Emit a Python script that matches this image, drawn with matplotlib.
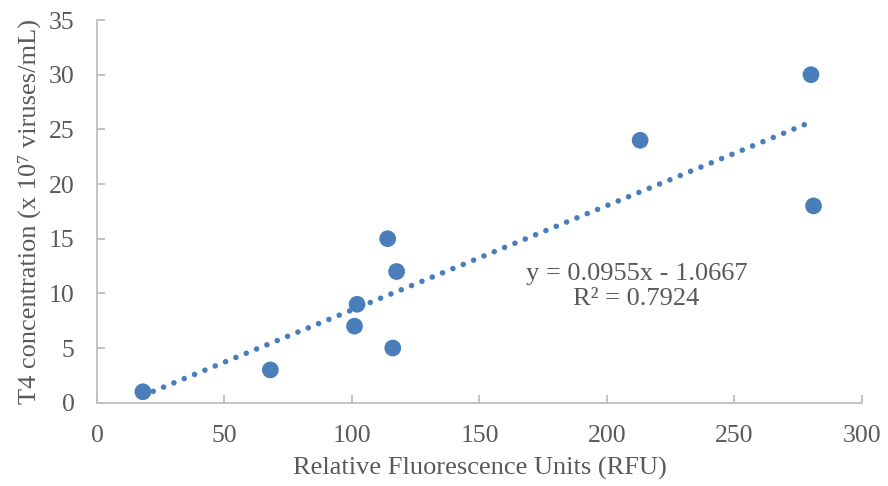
import numpy as np
import matplotlib
matplotlib.use('Agg')
import matplotlib.pyplot as plt

#Data
rfu = [18, 68, 101, 102, 114, 116, 117.5, 213, 280, 281]
t4_conc = [1, 3, 7, 9, 15, 5, 12, 24, 30, 18]

#Trendline as printed on the chart
slope = 0.0955
intercept = -1.0667
r_squared = 0.7924

x_ticks = [0, 50, 100, 150, 200, 250, 300]
y_ticks = [0, 5, 10, 15, 20, 25, 30, 35]

blue = '#4A7EBB'
grey_text = '#595959'
grey_axis = '#BFBFBF'

plt.rcParams['font.family'] = ['Liberation Serif', 'DejaVu Serif']
fs_tick = 18.5
fs = 19

fig = plt.figure(figsize=(8.88, 4.86), dpi=100)
ax = fig.add_axes([0.1092, 0.1714, 0.8615, 0.7874])

#Linear trendline, dotted, spanning the data range
x_fit = np.array([min(rfu), max(rfu)])
ax.plot(x_fit, slope * x_fit + intercept, color=blue, linestyle=(0, (0.01, 2.0)),
        linewidth=4.0, dash_capstyle='round', zorder=2)

ax.scatter(rfu, t4_conc, s=145, color=blue, edgecolors='none', zorder=3)

eq_text = f'y = {slope:.4f}x - {abs(intercept):.4f}\nR² = {r_squared:.4f}'
ax.text(211.6, 10.6, eq_text, ha='center', va='center', multialignment='center',
        fontsize=fs, color=grey_text, linespacing=1.17)

ax.set_xlim(0, 300)
ax.set_ylim(0, 35)
ax.set_xticks(x_ticks)
ax.set_yticks(y_ticks)

for side in ['top', 'right']:
    ax.spines[side].set_visible(False)
for side in ['left', 'bottom']:
    ax.spines[side].set_color(grey_axis)
    ax.spines[side].set_linewidth(1.3)

ax.tick_params(axis='both', direction='in', length=6, width=1.3, color=grey_axis,
               labelsize=fs_tick, labelcolor=grey_text)
ax.tick_params(axis='x', pad=16)
ax.tick_params(axis='y', pad=16)

ax.set_xlabel('Relative Fluorescence Units (RFU)', fontsize=fs, color=grey_text, labelpad=7)
ax.set_ylabel('T4 concentration (x 10⁷ viruses/mL)', fontsize=fs, color=grey_text, labelpad=6)

fig.savefig('out.png', dpi=100)
